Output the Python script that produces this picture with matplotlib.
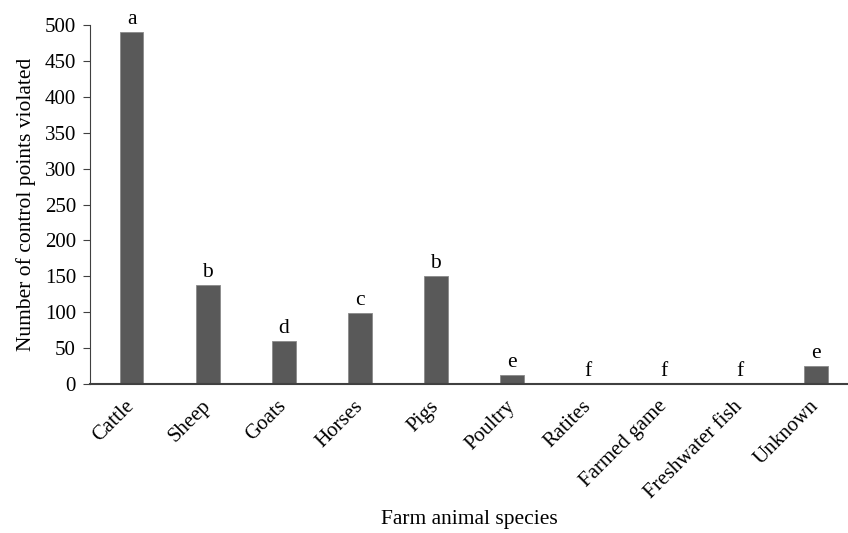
import numpy as np
import matplotlib.pyplot as plt

species = ["Cattle", "Sheep", "Goats", "Horses", "Pigs", "Poultry",
           "Ratites", "Farmed game", "Freshwater fish", "Unknown"]
counts = [490, 138, 60, 99, 150, 13, 0, 0, 0, 25]
letters = ["a", "b", "d", "c", "b", "e", "f", "f", "f", "e"]

plt.rcParams['font.family'] = ['Liberation Serif', 'DejaVu Serif']

fig = plt.figure(figsize=(8.48, 5.33), dpi=100)
ax = fig.add_axes([0.106, 0.2795, 0.894, 0.6735])

x = np.arange(len(species))
ax.bar(x, counts, width=0.31, color="#595959", edgecolor="#8a8a8a", linewidth=0.6)
for xi, c, l in zip(x, counts, letters):
    ax.text(xi, c + 4, l, ha="center", va="bottom", fontsize=15.5)

ax.set_xlim(-0.55, 9.42)
ax.set_ylim(0, 500)
ax.set_yticks(range(0, 501, 50))
ax.set_xticks(x)
ax.set_xticklabels(species, rotation=45, ha="right", va="center",
                   rotation_mode="anchor", fontsize=15)
ax.tick_params(axis="x", length=0, pad=14)
ax.tick_params(axis="y", labelsize=15, length=5, direction="out", color="#404040", pad=5)
for s in ["top", "right"]:
    ax.spines[s].set_visible(False)
ax.spines["left"].set_color("#404040")
ax.spines["bottom"].set_color("#404040")
ax.spines["bottom"].set_linewidth(1.5)
ax.set_ylabel("Number of control points violated", fontsize=15.5, labelpad=6)
ax.set_xlabel("Farm animal species", fontsize=15.5, labelpad=6)

fig.savefig("out.png", dpi=100)
